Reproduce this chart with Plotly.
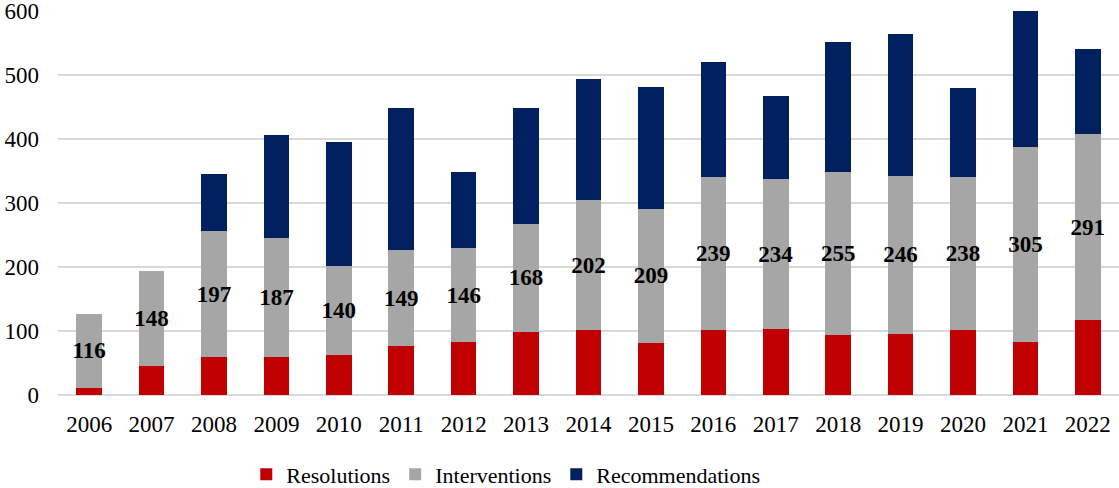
import plotly.graph_objects as go

years = [str(y) for y in range(2006, 2023)]
resolutions = [11, 46, 59, 59, 62, 77, 83, 99, 102, 82, 102, 103, 93, 96, 102, 83, 117]
interventions = [116, 148, 197, 187, 140, 149, 146, 168, 202, 209, 239, 234, 255, 246, 238, 305, 291]
recommendations = [0, 0, 89, 161, 193, 222, 119, 181, 190, 191, 179, 130, 203, 222, 139, 212, 133]

serif = "Liberation Serif, Times New Roman, serif"

fig = go.Figure()
fig.add_trace(go.Bar(name="Resolutions", x=years, y=resolutions,
                     marker=dict(color="#C00000", line=dict(width=0))))
fig.add_trace(go.Bar(name="Interventions", x=years, y=interventions,
                     marker=dict(color="#A6A6A6", line=dict(width=0)),
                     text=interventions, textposition="inside", insidetextanchor="middle",
                     textangle=0, constraintext="none",
                     textfont=dict(family=serif, size=23, color="black", weight="bold")))
fig.add_trace(go.Bar(name="Recommendations", x=years, y=recommendations,
                     marker=dict(color="#002060", line=dict(width=0))))

fig.update_layout(
    barmode="stack", bargap=0.59, bargroupgap=0,
    width=1119, height=488,
    margin=dict(l=58, r=0, t=11, b=93, autoexpand=False),
    paper_bgcolor="white", plot_bgcolor="white",
    font=dict(family=serif, size=23, color="black"),
    legend=dict(orientation="h", x=0.452, xanchor="center", xref="container",
                y=0.028, yanchor="middle", yref="container",
                font=dict(size=22), traceorder="normal", itemwidth=30),
    showlegend=True,
)
fig.update_traces(cliponaxis=False)
fig.update_xaxes(showgrid=False, showline=False, ticks="", tickfont=dict(size=23),
                 automargin=False, ticklabelstandoff=13)
fig.update_yaxes(range=[0, 600], dtick=100, showgrid=True, gridcolor="#D9D9D9", gridwidth=1.5,
                 zeroline=True, zerolinecolor="#D9D9D9", zerolinewidth=1.5,
                 ticks="", tickfont=dict(size=23), ticklabelstandoff=18, automargin=False,
                 ticklabeloverflow="allow")

# page body has a default 8px margin; drop it so the figure sits at the corner
fig.write_html("out.html", config={"displayModeBar": False},
               post_script="document.body.style.margin='0';")
